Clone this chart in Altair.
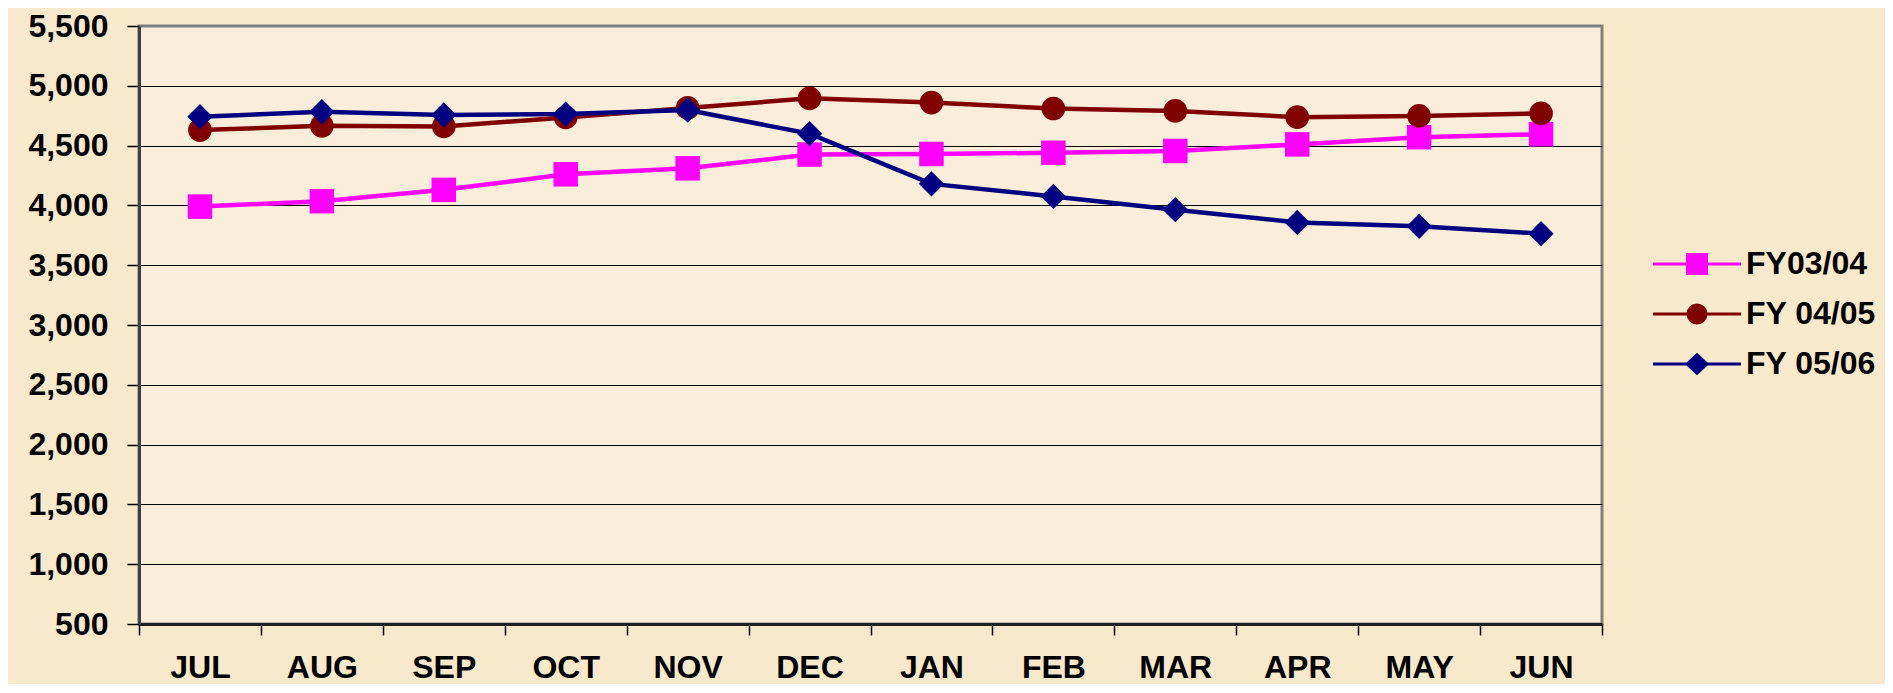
import altair as alt
import pandas as pd

months = ["JUL", "AUG", "SEP", "OCT", "NOV", "DEC", "JAN", "FEB", "MAR", "APR", "MAY", "JUN"]
series_names = ["FY03/04", "FY 04/05", "FY 05/06"]
fy0304 = [3990, 4035, 4130, 4260, 4310, 4425, 4430, 4440, 4455, 4510, 4570, 4595]
fy0405 = [4630, 4665, 4660, 4735, 4815, 4895, 4860, 4810, 4790, 4738, 4748, 4770]
fy0506 = [4742, 4783, 4756, 4764, 4797, 4600, 4180, 4075, 3964, 3858, 3825, 3764]
y_ticks = [500, 1000, 1500, 2000, 2500, 3000, 3500, 4000, 4500, 5000, 5500]

colors = ["#FF00FF", "#800000", "#000080"]
shapes = ["square", "circle", "diamond"]
sizes = [600, 560, 640]
legend_paths = [
    "M-4.4,0H4.4M-0.95,-0.95H0.95V0.95H-0.95Z",
    "M-4.4,0H4.4M0.9,0A0.9,0.9 0 1,1 -0.9,0A0.9,0.9 0 1,1 0.9,0Z",
    "M-4.4,0H4.4M-1.0,0L0,-0.92L1.0,0L0,0.92Z",
]

rows = []
for name, vals in zip(series_names, [fy0304, fy0405, fy0506]):
    for m, v in zip(months, vals):
        rows.append({"month": m, "value": v, "series": name})
df = pd.DataFrame(rows)

FONT = "Liberation Sans, Arial, sans-serif"

x_enc = alt.X(
    "month:N",
    sort=months,
    bandPosition=0.5,
    scale=alt.Scale(type="band", paddingInner=0, paddingOuter=0, domain=months),
    axis=alt.Axis(
        title=None,
        labelAngle=0,
        labelFont=FONT,
        labelFontSize=32,
        labelFontWeight="bold",
        labelColor="black",
        labelPadding=17,
        tickBand="extent",
        tickSize=11,
        tickColor="black",
        tickWidth=1.5,
        domainColor="#202020",
        domainWidth=3,
        grid=False,
    ),
)
y_enc = alt.Y(
    "value:Q",
    scale=alt.Scale(domain=[500, 5500], nice=False, zero=False),
    axis=alt.Axis(
        title=None,
        values=y_ticks,
        format=",.0f",
        labelFont=FONT,
        labelFontSize=32,
        labelFontWeight="bold",
        labelColor="black",
        labelPadding=19,
        tickSize=12,
        tickColor="black",
        tickWidth=1.5,
        domainColor="#404040",
        domainWidth=3,
        grid=True,
        gridColor="black",
        gridWidth=1.2,
        gridOpacity=alt.condition("datum.value == 500 || datum.value == 5500", alt.value(0), alt.value(1)),
    ),
)

base = alt.Chart(df)
layers = []
for name, c, sh, sz in zip(series_names, colors, shapes, sizes):
    sub = base.transform_filter(alt.datum.series == name)
    layers.append(sub.mark_line(color=c, strokeWidth=4.5).encode(x=x_enc, y=y_enc))
    layers.append(
        sub.mark_point(filled=True, color=c, shape=sh, size=sz, opacity=1, strokeWidth=0).encode(x=x_enc, y=y_enc)
    )

leg = alt.Legend(
    title=None,
    orient="none",
    legendX=1542,
    legendY=222,
    padding=0,
    symbolSize=400,
    symbolStrokeWidth=3,
    labelFont=FONT,
    labelFontSize=32,
    labelFontWeight="bold",
    labelColor="black",
    labelOffset=33,
    rowPadding=18,
    labelLimit=400,
)
legend_layer = base.transform_filter("false").mark_point(filled=True, opacity=1).encode(
    x=x_enc,
    y=y_enc,
    fill=alt.Fill("series:N", scale=alt.Scale(domain=series_names, range=colors), legend=leg),
    stroke=alt.Stroke("series:N", scale=alt.Scale(domain=series_names, range=colors), legend=leg),
    shape=alt.Shape("series:N", scale=alt.Scale(domain=series_names, range=legend_paths), legend=leg),
)
layers.append(legend_layer)

chart = (
    alt.layer(*layers)
    .properties(
        width=1463,
        height=598,
        background="#F8E9CC",
        autosize=alt.AutoSizeParams(type="none"),
        padding={"left": 131, "top": 18, "right": 283, "bottom": 60},
    )
    .configure_view(fill="#FAEEDA", stroke="#808080", strokeWidth=3)
)

chart.save("out.html", embed_options={"renderer": "svg", "actions": False})
